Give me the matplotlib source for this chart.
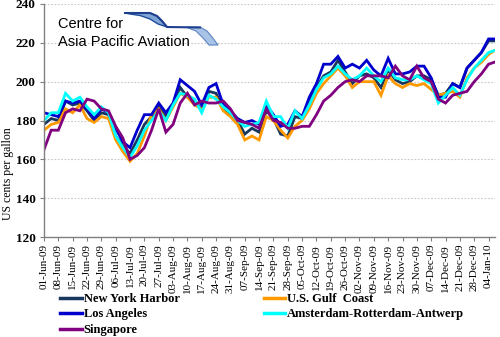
import matplotlib
matplotlib.use("Agg")
import matplotlib.pyplot as plt
from matplotlib.patches import Polygon
from matplotlib.lines import Line2D

# ---- data (x in weeks since 01-Jun-09) ----
weeks = [i * 0.5 for i in range(63)] + [31.4]

ny_harbor = [178, 181, 180, 190, 188, 189, 185, 180, 184, 183,
             172, 167, 163, 170, 178, 182, 187, 182, 188, 197,
             192, 190, 186, 195, 194, 186, 183, 180, 173, 176,
             174, 185, 181, 173, 172, 182, 181, 190, 197, 203,
             205, 211, 205, 199, 203, 204, 202, 197, 206, 201,
             199, 200, 203, 203, 201, 193, 194, 199, 197, 207,
             211, 215, 221, 221]
gulf_coast = [175, 178, 179, 186, 184, 188, 181, 179, 182, 181,
              170, 164, 159, 163, 172, 183, 186, 180, 187, 194,
              192, 188, 186, 192, 192, 185, 182, 178, 170, 172,
              170, 182, 180, 175, 171, 177, 180, 186, 194, 199,
              203, 207, 203, 197, 200, 200, 200, 193, 203, 199,
              197, 199, 198, 199, 196, 193, 194, 195, 192, 202,
              207, 210, 214, 216]
los_angeles = [184, 183, 182, 190, 189, 190, 186, 181, 186, 184,
               176, 169, 166, 175, 183, 183, 189, 184, 189, 201,
               198, 195, 188, 197, 199, 188, 185, 181, 179, 180,
               178, 188, 183, 177, 178, 185, 182, 192, 199, 209,
               209, 213, 207, 209, 207, 211, 206, 203, 212, 204,
               204, 205, 208, 208, 202, 192, 192, 199, 197, 207,
               211, 215, 222, 222]
ara = [180, 184, 184, 194, 190, 192, 187, 183, 187, 184,
       172, 166, 161, 167, 175, 180, 185, 180, 188, 194,
       193, 191, 184, 193, 191, 187, 184, 180, 177, 178,
       179, 190, 182, 182, 176, 185, 181, 188, 196, 202,
       204, 208, 204, 201, 203, 207, 203, 200, 207, 202,
       201, 201, 203, 201, 199, 189, 193, 197, 193, 201,
       207, 211, 215, 216]
singapore = [165, 175, 175, 184, 186, 185, 191, 190, 186, 185,
             177, 171, 160, 162, 166, 175, 186, 174, 178, 189,
             194, 188, 190, 189, 189, 190, 186, 180, 179, 178,
             176, 186, 180, 179, 176, 176, 177, 177, 183, 190,
             193, 197, 200, 201, 200, 203, 203, 203, 202, 208,
             203, 201, 208, 202, 200, 191, 189, 193, 194, 195,
             200, 204, 209, 210]

tick_labels = ["01-Jun-09", "08-Jun-09", "15-Jun-09", "22-Jun-09", "29-Jun-09",
               "06-Jul-09", "13-Jul-09", "20-Jul-09", "27-Jul-09", "03-Aug-09",
               "10-Aug-09", "17-Aug-09", "24-Aug-09", "31-Aug-09", "07-Sep-09",
               "14-Sep-09", "21-Sep-09", "28-Sep-09", "05-Oct-09", "12-Oct-09",
               "19-Oct-09", "26-Oct-09", "02-Nov-09", "09-Nov-09", "16-Nov-09",
               "23-Nov-09", "30-Nov-09", "07-Dec-09", "14-Dec-09", "21-Dec-09",
               "28-Dec-09", "04-Jan-10"]

series_names = ["New York Harbor", "U.S. Gulf  Coast", "Los Angeles",
                "Amsterdam-Rotterdam-Antwerp", "Singapore"]
series_values = [ny_harbor, gulf_coast, los_angeles, ara, singapore]
colors = ["#17375E", "#FF9900", "#0000CC", "#00FFFF", "#800080"]

# ---- figure ----
W, H = 500, 337
fig = plt.figure(figsize=(W / 100, H / 100), dpi=100)
ax = fig.add_axes([44 / W, 1 - 237 / H, (495 - 44) / W, (237 - 4) / H])

handles = {}
for name, vals, c in zip(series_names, series_values, colors):
    ln, = ax.plot(weeks, vals, color=c, lw=2.0, solid_joinstyle="miter")
    handles[name] = ln

ax.set_ylim(120, 240)
ax.set_xlim(0, 31.45)
ax.set_yticks(range(120, 241, 20))
ax.set_xticks(range(len(tick_labels)))
ax.set_xticklabels(tick_labels, rotation=90, fontsize=8, family="Liberation Serif")
for lab in ax.get_yticklabels():
    lab.set_family("Liberation Serif")
    lab.set_fontsize(9.5)
    lab.set_fontweight("bold")
ax.tick_params(axis="x", length=3, width=0.8, color="#808080", pad=2)
ax.tick_params(axis="y", length=3, width=0.8, color="#808080", pad=3)
ax.grid(axis="y", color="#C8C8C8", ls=(0, (1.5, 1.5)), lw=0.8)
ax.set_axisbelow(True)
for s in ["top", "right"]:
    ax.spines[s].set_visible(False)
for s in ["left", "bottom"]:
    ax.spines[s].set_color("#808080")
    ax.spines[s].set_linewidth(1.0)
ax.set_ylabel("US cents per gallon", family="Liberation Serif", fontsize=8.5)
ax.yaxis.set_label_coords((14 - 44) / 451, (237 - 174) / 233)

order = ["New York Harbor", "Los Angeles", "Singapore",
         "U.S. Gulf  Coast", "Amsterdam-Rotterdam-Antwerp"]
leg_handles = [Line2D([], [], color=handles[k].get_color(), lw=2.5) for k in order]
leg = fig.legend(leg_handles, order, ncol=2,
                 loc="upper left", bbox_to_anchor=(60 / W, 1 - 293 / H),
                 borderaxespad=0, borderpad=0,
                 frameon=False, handlelength=1.75, handletextpad=0.15,
                 columnspacing=6.7, labelspacing=0.28,
                 prop={"family": "Liberation Serif", "size": 9, "weight": "bold"})

# ---- logo ----
def fx(px):
    return px / W

def fy(py):
    return 1 - py / H

fig.text(fx(58), fy(28), "Centre for", fontsize=10.5, family="Liberation Sans",
         color="#000000", va="baseline")
fig.text(fx(58), fy(46), "Asia Pacific Aviation", fontsize=10.5,
         family="Liberation Sans", color="#000000", va="baseline")

fin1 = [(125, 13), (150, 13), (157, 16), (162, 21), (167, 27), (158, 24),
        (150, 19), (140, 15.5), (130, 14)]
fin2 = [(186, 27), (200, 27), (207, 31), (212, 37), (218, 45), (209, 45),
        (203, 38), (196, 31)]
fig.patches.append(Polygon([(fx(a), fy(b)) for a, b in fin1], closed=True,
                           transform=fig.transFigure, facecolor="#7FA3D4",
                           edgecolor="#1F4E9C", lw=1.0))
fig.patches.append(Polygon([(fx(a), fy(b)) for a, b in fin2], closed=True,
                           transform=fig.transFigure, facecolor="#A9C3E6",
                           edgecolor="#5C84C2", lw=0.8))
fig.lines.append(Line2D([fx(125), fx(150), fx(157), fx(162), fx(167), fx(200)],
                        [fy(13), fy(13), fy(16), fy(21), fy(27), fy(27.5)],
                        transform=fig.transFigure, color="#1F3F8F", lw=1.5))

fig.savefig("out.png", dpi=100)
